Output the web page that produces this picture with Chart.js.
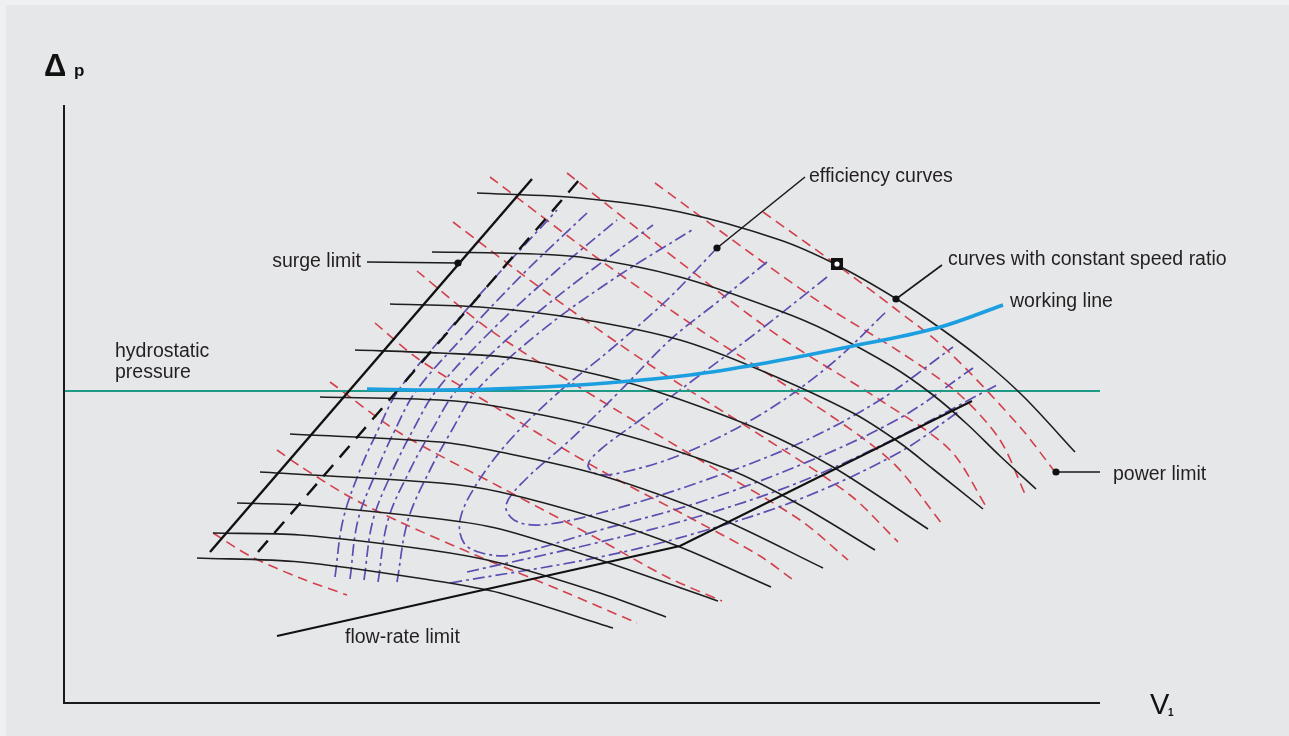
<!DOCTYPE html>
<html>
<head>
<meta charset="utf-8">
<script src="https://cdn.jsdelivr.net/npm/chart.js@4.4.1/dist/chart.umd.min.js"></script>
<style>
html, body { margin: 0; padding: 0; background: #eff0f1; }
#wrap { position: relative; width: 1289px; height: 736px; }
</style>
</head>
<body>
<div id="wrap"><canvas id="chart"></canvas></div>
<script>
// Pump map: flow V1 on x, delta p on y (origin at the axis corner)
const xMax = 1036;
const yMax = 598;
const hydrostaticLevel = 312;

// curves with constant speed ratio (solid black)
const speedRatioCurves = [
    [[413, 510], [516, 505], [616, 491], [716, 463], [773, 438], [831, 405], [876, 375], [921, 341], [961, 305], [1011, 251]],
    [[368, 451], [436, 450], [516, 446], [616, 426], [716, 392], [763, 372], [829, 336], [869, 308], [903, 279], [936, 247], [972, 214]],
    [[326, 399], [416, 396], [516, 384], [616, 363], [696, 333], [789, 290], [836, 260], [869, 234], [919, 194]],
    [[291, 353], [376, 350], [449, 345], [543, 326], [606, 307], [696, 273], [769, 236], [864, 174]],
    [[256, 306], [376, 303], [436, 296], [543, 273], [669, 232], [736, 198], [811, 153]],
    [[226, 269], [376, 261], [436, 251], [536, 228], [653, 186], [759, 135]],
    [[196, 231], [376, 220], [436, 211], [536, 184], [616, 156], [707, 116]],
    [[173, 200], [236, 198], [376, 184], [436, 174], [536, 143], [654, 102]],
    [[149, 170], [236, 168], [366, 153], [436, 140], [536, 110], [602, 86]],
    [[133, 145], [236, 141], [366, 123], [436, 110], [549, 75]],
];

// red dashed curves, the last one ends at the power limit
const powerCurves = [
    [[149, 170], [186, 147], [236, 125], [283, 108]],
    [[213, 253], [236, 237], [286, 206], [336, 181], [416, 146], [496, 113], [573, 80]],
    [[266, 321], [336, 270], [436, 216], [536, 163], [603, 126], [658, 102]],
    [[311, 380], [353, 345], [436, 293], [536, 233], [636, 180], [696, 147], [728, 124]],
    [[353, 432], [426, 373], [536, 303], [636, 243], [736, 183], [784, 143]],
    [[389, 481], [486, 408], [586, 338], [696, 268], [786, 208], [834, 161]],
    [[426, 526], [536, 443], [636, 373], [736, 308], [826, 243], [879, 178]],
    [[503, 530], [616, 441], [716, 366], [816, 303], [886, 253], [923, 195]],
    [[591, 520], [696, 443], [763, 396], [836, 351], [896, 308], [936, 263], [961, 209]],
    [[699, 491], [773, 438], [829, 396], [883, 353], [956, 276], [991, 231]],
];

// efficiency curves (violet dash-dot)
const efficiencyCurves = [
    [[271, 126], [279, 183], [296, 233], [314, 273], [334, 312], [376, 363], [436, 431], [493, 493]],
    [[286, 124], [294, 183], [313, 233], [331, 273], [352, 312], [401, 368], [461, 431], [523, 490]],
    [[300, 123], [309, 183], [329, 233], [349, 273], [372, 312], [426, 371], [491, 431], [553, 483]],
    [[314, 121], [324, 183], [346, 233], [368, 273], [392, 312], [451, 371], [521, 428], [589, 478]],
    [[333, 121], [344, 183], [366, 233], [388, 273], [412, 312], [476, 371], [551, 425], [628, 473]],
    [[653, 455], [603, 403], [546, 353], [496, 312], [446, 263], [412, 218], [396, 183], [400, 160], [418, 150], [446, 148], [536, 173], [636, 201], [736, 238], [836, 285], [909, 335]],
    [[703, 441], [656, 403], [606, 363], [556, 312], [506, 263], [461, 223], [442, 198], [450, 183], [476, 178], [536, 190], [636, 221], [736, 260], [816, 303], [889, 356]],
    [[763, 426], [696, 373], [636, 328], [576, 283], [536, 253], [524, 238], [533, 229], [556, 230], [616, 248], [696, 288], [766, 338], [824, 393]],
    [[403, 131], [536, 161], [636, 187], [736, 221], [836, 267], [933, 318]],
    [[386, 120], [536, 146], [636, 171], [736, 204], [836, 251], [894, 291]],
];

const workingLine = [[303, 314], [376, 313], [456, 315], [543, 320], [626, 328], [696, 339], [779, 355], [873, 375], [939, 398]];
const surgeLimit = [[146, 151], [468, 524]];
const surgeLimitDashed = [[194, 151], [516, 524]];
const flowRateLimit = [[213, 67], [616, 157], [908, 302]];

// dots at the end of the callout lines and the design point
const calloutDots = [[394, 440], [653, 455], [832, 404], [992, 231]];
const designPoint = [[773, 439]];
const callouts = [
    [[303, 441], [394, 440]],
    [[653, 455], [741, 526]],
    [[832, 404], [878, 438]],
    [[992, 231], [1036, 231]],
];

const labels = [
    { text: 'surge limit', x: 297, y: 436, align: 'right' },
    { text: 'efficiency curves', x: 745, y: 521, align: 'left' },
    { text: 'curves with constant speed ratio', x: 884, y: 438, align: 'left' },
    { text: 'working line', x: 946, y: 396, align: 'left' },
    { text: 'hydrostatic', x: 51, y: 346, align: 'left' },
    { text: 'pressure', x: 51, y: 325, align: 'left' },
    { text: 'power limit', x: 1049, y: 223, align: 'left' },
    { text: 'flow-rate limit', x: 281, y: 60, align: 'left' },
];

const FONT = '"Liberation Sans", Arial, sans-serif';
const pts = (arr) => arr.map(([x, y]) => ({ x, y }));
const curve = (c, color, width, extra) => Object.assign({ data: pts(c), showLine: true, pointRadius: 0, borderColor: color, borderWidth: width }, extra);

const datasets = [
    { data: pts(designPoint), pointStyle: 'circle', pointRadius: 2.6, backgroundColor: '#ffffff', borderWidth: 0, order: 0 },
    { data: pts(designPoint), pointStyle: 'rect', pointRadius: 8.5, backgroundColor: '#111111', borderWidth: 0, order: 1 },
    { data: pts(calloutDots), pointRadius: 3.6, backgroundColor: '#111111', borderWidth: 0, order: 1 },
    ...callouts.map((c) => curve(c, '#1a1a1a', 1.6, { order: 2 })),
    curve(workingLine, '#1b9fe0', 3.6, { tension: 0.35, order: 2 }),
    curve(surgeLimit, '#111111', 2.4, { order: 3 }),
    curve(surgeLimitDashed, '#111111', 2.4, { borderDash: [15, 10], order: 3 }),
    curve(flowRateLimit, '#111111', 2.2, { order: 3 }),
    ...speedRatioCurves.map((c) => curve(c, '#1e1e1e', 1.6, { tension: 0.3, order: 4 })),
    curve([[0, hydrostaticLevel], [xMax, hydrostaticLevel]], '#1f9a87', 2, { order: 5 }),
    ...efficiencyCurves.map((c) => curve(c, '#5c4db1', 1.7, { borderDash: [12, 4, 3, 4], tension: 0.35, order: 6 })),
    ...powerCurves.map((c) => curve(c, '#d3404b', 1.6, { borderDash: [10, 6], tension: 0.3, order: 7 })),
];

const background = {
    id: 'background',
    beforeDraw(chart) {
        const { ctx, width, height } = chart;
        ctx.save();
        ctx.fillStyle = '#eff0f1';
        ctx.fillRect(0, 0, width, height);
        ctx.fillStyle = '#e6e7e9';
        ctx.fillRect(6, 5, width - 6, height - 5);
        ctx.restore();
    },
};

const decorations = {
    id: 'decorations',
    afterDatasetsDraw(chart) {
        const { ctx, chartArea: a, scales: { x, y } } = chart;
        ctx.save();
        // axes
        ctx.strokeStyle = '#1a1a1a';
        ctx.lineWidth = 2;
        ctx.beginPath();
        ctx.moveTo(a.left, a.top);
        ctx.lineTo(a.left, a.bottom);
        ctx.lineTo(a.right, a.bottom);
        ctx.stroke();

        ctx.fillStyle = '#231f20';
        ctx.textBaseline = 'alphabetic';
        ctx.font = `19.5px ${FONT}`;
        labels.forEach((l) => {
            ctx.textAlign = l.align;
            ctx.fillText(l.text, x.getPixelForValue(l.x), y.getPixelForValue(l.y));
        });

        // axis titles
        ctx.textAlign = 'left';
        ctx.fillStyle = '#111111';
        ctx.font = `bold 31px ${FONT}`;
        ctx.fillText('\u0394', a.left - 20, a.top - 29);
        ctx.font = `bold 17px ${FONT}`;
        ctx.fillText('p', a.left + 10, a.top - 29);
        ctx.font = `29px ${FONT}`;
        ctx.fillText('V', a.right + 50, a.bottom + 11);
        ctx.font = `bold 10px ${FONT}`;
        ctx.fillText('1', a.right + 68, a.bottom + 13);
        ctx.restore();
    },
};

new Chart(document.getElementById('chart'), {
    type: 'scatter',
    data: { datasets },
    options: {
        responsive: true,
        maintainAspectRatio: false,
        animation: false,
        events: [],
        layout: { padding: { left: 64, top: 105, right: 189, bottom: 33 } },
        scales: {
            x: { type: 'linear', min: 0, max: xMax, display: false },
            y: { type: 'linear', min: 0, max: yMax, display: false },
        },
        plugins: { legend: { display: false }, tooltip: { enabled: false } },
    },
    plugins: [background, decorations],
});
</script>
</body>
</html>
